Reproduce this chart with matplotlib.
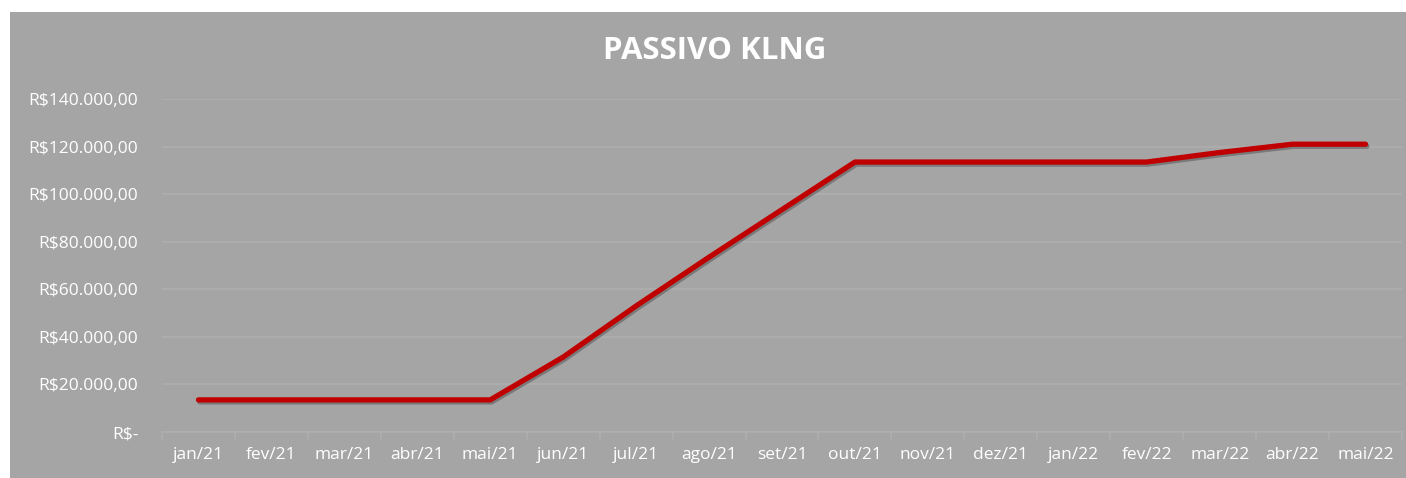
import matplotlib
matplotlib.use("Agg")
import matplotlib.pyplot as plt
from matplotlib.patches import Rectangle
from matplotlib.ticker import FuncFormatter, MultipleLocator
import matplotlib.patheffects as pe

months = ["jan/21", "fev/21", "mar/21", "abr/21", "mai/21", "jun/21", "jul/21",
          "ago/21", "set/21", "out/21", "nov/21", "dez/21", "jan/22", "fev/22",
          "mar/22", "abr/22", "mai/22"]
passivo = [13500, 13500, 13500, 13500, 13500, 31500, 53000, 73500, 93500,
           113500, 113500, 113500, 113500, 113500, 117500, 121000, 121000]

W, H = 1406, 478
fig = plt.figure(figsize=(W / 100, H / 100), dpi=100, facecolor="white")
bg = "#A5A5A5"
rect = Rectangle((10 / W, 0), 1, (H - 12) / H, transform=fig.transFigure,
                 facecolor=bg, edgecolor="none", zorder=-10)
fig.add_artist(rect)

ax = fig.add_axes([162 / W, 46 / H, (1402 - 162) / W, (432 - 99) / H])
ax.set_zorder(1)
ax.patch.set_alpha(0)

x = list(range(len(months)))
ax.plot(x, passivo, color="#C00000", linewidth=3.8, solid_capstyle="round",
        solid_joinstyle="round",
        path_effects=[pe.SimpleLineShadow(offset=(1.0, -1.5), shadow_color="#444444", alpha=0.45),
                      pe.Normal()], zorder=3)

ax.set_xlim(-0.5, len(months) - 0.5)
ax.set_ylim(0, 140000)
ax.yaxis.set_major_locator(MultipleLocator(20000))

def fmt(v, pos):
    if v == 0:
        return "R$-"
    s = f"{v:,.2f}".replace(",", "X").replace(".", ",").replace("X", ".")
    return "R$" + s

ax.yaxis.set_major_formatter(FuncFormatter(fmt))
ax.set_xticks(x)
ax.set_xticklabels(months)
ax.set_xticks([i - 0.5 for i in range(len(months) + 1)], minor=True)

grid_c = "#AFAFAF"
ax.grid(axis="y", color=grid_c, linewidth=1.1, zorder=1)
for s in ["top", "right", "left"]:
    ax.spines[s].set_visible(False)
ax.spines["bottom"].set_color(grid_c)
ax.spines["bottom"].set_linewidth(1.1)

font = "Open Sans"
ax.tick_params(axis="y", length=0, pad=17, labelcolor="white", labelsize=12.5)
ax.tick_params(axis="x", which="major", length=0, pad=11, labelcolor="white", labelsize=12.5)
ax.tick_params(axis="x", which="minor", length=6, color=grid_c, width=1.1)
for lab in ax.get_xticklabels() + ax.get_yticklabels():
    lab.set_fontfamily(font)

fig.text(715 / W, 1 - 51 / H, "PASSIVO KLNG", ha="center", va="center",
         color="white", fontsize=22.5, fontweight="bold", fontfamily=font)

fig.savefig("out.png", dpi=100, facecolor="white")
